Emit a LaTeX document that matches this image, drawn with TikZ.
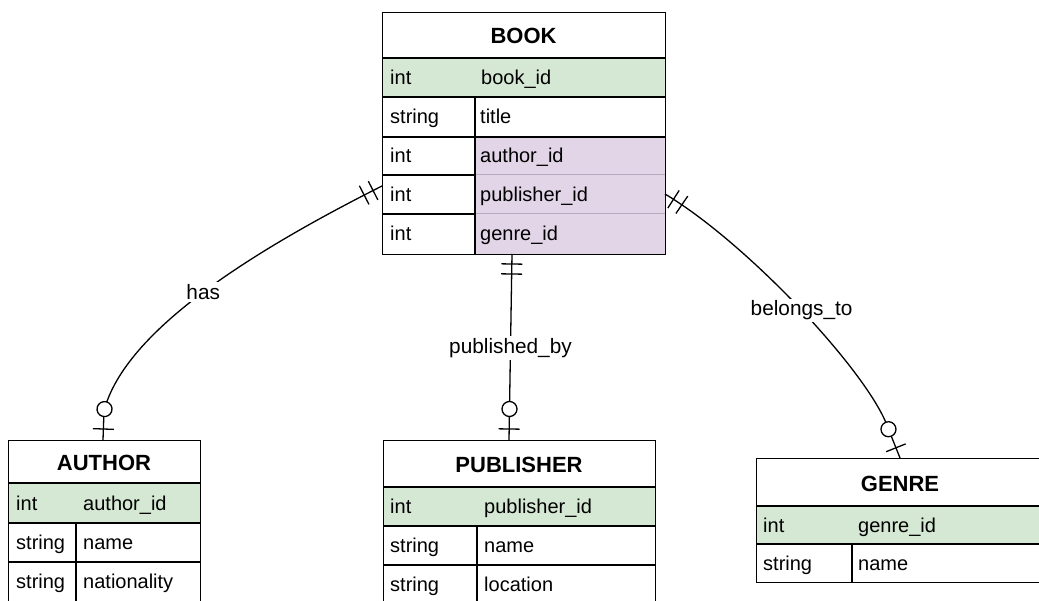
\documentclass[tikz,border=0pt]{standalone}
\usepackage{fontspec}
\setmainfont{Liberation Sans}
\usetikzlibrary{decorations.markings}
\definecolor{pkgreen}{HTML}{D5E8D4}
\definecolor{fkpurple}{HTML}{E1D5E7}
\definecolor{fkline}{HTML}{B8A8C0}
\tikzset{
  ent/.style={draw=black, line width=1.3pt, inner sep=0pt, anchor=north west},
  fld/.style={font=\fontsize{20}{24}\selectfont, anchor=base west, inner sep=0pt},
  ttl/.style={font=\fontsize{22}{26}\selectfont\bfseries, anchor=base, inner sep=0pt},
  sep/.style={line width=1.3pt, draw=black},
  fksep/.style={line width=1pt, draw=fkline},
  conn/.style={line width=1.3pt, draw=black},
  lab/.style={font=\fontsize{20.8}{24}\selectfont, fill=white, inner sep=2pt},
  mandone/.style={postaction={decorate, decoration={markings,
      mark=at position 10pt with {\draw[line width=1.3pt] (0pt,-10.5pt)--(0pt,10.5pt);},
      mark=at position 20pt with {\draw[line width=1.3pt] (0pt,-10.5pt)--(0pt,10.5pt);}}}},
  optone/.style={postaction={decorate, decoration={markings,
      mark=at position -31pt with {\draw[line width=1.3pt, fill=white] (0pt,0pt) circle (7.5pt);}}},
    postaction={decorate, decoration={markings,
      mark=at position -11pt with {\draw[line width=1.3pt] (0pt,-10.5pt)--(0pt,10.5pt);}}}}
}
\begin{document}
\begin{tikzpicture}[x=1pt,y=-1pt]
\useasboundingbox (0,0) rectangle (1039,601);
\clip (0,0) rectangle (1039,601);
\fill[white] (0,0) rectangle (1039,601);

% ---------- BOOK ----------
\fill[pkgreen] (382,58) rectangle (665,97);
\fill[fkpurple] (475,137) rectangle (665,254);
\draw[fksep] (475,175) -- (665,175) (475,214) -- (665,214);
\draw[sep] (382,58) -- (665,58) (382,97) -- (665,97) (382,137) -- (665,137)
  (382,175) -- (475,175) (382,214) -- (475,214) (475,97) -- (475,254);
\node[ent, minimum width=283pt, minimum height=242pt] (book) at (382,12) {};
\node[ttl] (bookT) at (523.5,44) {BOOK};
\node[fld] (b1a) at (390,84.5) {int};     \node[fld] (b1b) at (481,84.5) {book\_id};
\node[fld] (b2a) at (390,124) {string};   \node[fld] (b2b) at (480,124) {title};
\node[fld] (b3a) at (390,163) {int};      \node[fld] (b3b) at (480,163) {author\_id};
\node[fld] (b4a) at (390,201.5) {int};    \node[fld] (b4b) at (480,201.5) {publisher\_id};
\node[fld] (b5a) at (390,241) {int};      \node[fld] (b5b) at (480,241) {genre\_id};

% ---------- AUTHOR ----------
\fill[pkgreen] (8,483) rectangle (200,523);
\draw[sep] (8,483) -- (200,483) (8,523) -- (200,523) (8,562) -- (200,562) (76,523) -- (76,640);
\node[ent, minimum width=192pt, minimum height=200pt] (author) at (8,440) {};
\node[ttl] (authorT) at (104,470.5) {AUTHOR};
\node[fld] (a1a) at (16,510) {int};        \node[fld] (a1b) at (83,510) {author\_id};
\node[fld] (a2a) at (16,549.5) {string};   \node[fld] (a2b) at (83,549.5) {name};
\node[fld] (a3a) at (16,588.5) {string};   \node[fld] (a3b) at (83,588.5) {nationality};

% ---------- PUBLISHER ----------
\fill[pkgreen] (383,487) rectangle (655,526);
\draw[sep] (383,487) -- (655,487) (383,526) -- (655,526) (383,565) -- (655,565) (477,526) -- (477,640);
\node[ent, minimum width=272pt, minimum height=200pt] (publisher) at (383,440) {};
\node[ttl] (publisherT) at (519,472.5) {PUBLISHER};
\node[fld] (p1a) at (390,513.5) {int};       \node[fld] (p1b) at (484,513.5) {publisher\_id};
\node[fld] (p2a) at (390,552.5) {string};    \node[fld] (p2b) at (484,552.5) {name};
\node[fld] (p3a) at (390,591.5) {string};    \node[fld] (p3b) at (484,591.5) {location};

% ---------- GENRE ----------
\fill[pkgreen] (756,506) rectangle (1044,544);
\draw[sep] (756,506) -- (1044,506) (756,544) -- (1044,544) (852,544) -- (852,582);
\node[ent, minimum width=288pt, minimum height=124pt] (genre) at (756,458) {};
\node[ttl] (genreT) at (900,491) {GENRE};
\node[fld] (g1a) at (763,532) {int};       \node[fld] (g1b) at (858,532) {genre\_id};
\node[fld] (g2a) at (763,570) {string};    \node[fld] (g2b) at (858,570) {name};

% ---------- connectors ----------
\coordinate (bL) at (382,186);
\coordinate (bR) at (665,194);
\coordinate (bB) at (512,254);
\coordinate (aC) at (104,411);
\coordinate (aT) at (103,440);
\coordinate (pT) at (509,440);
\coordinate (gC) at (888,428);
\coordinate (gT) at (900,458);

\draw[conn, mandone, optone] (bL) .. controls (255,250) and (125,330) .. (aC) node[lab, pos=0.5] (hasL) {has} -- (aT);
\draw[conn, mandone, optone] (bB) -- (pT) node[lab, pos=0.505] (pubL) {published\_by};
\draw[conn, mandone, optone] (bR) .. controls (750,245) and (870,375) .. (gC) node[lab, pos=0.5] (belL) {belongs\_to} -- (gT);
\end{tikzpicture}
\end{document}
